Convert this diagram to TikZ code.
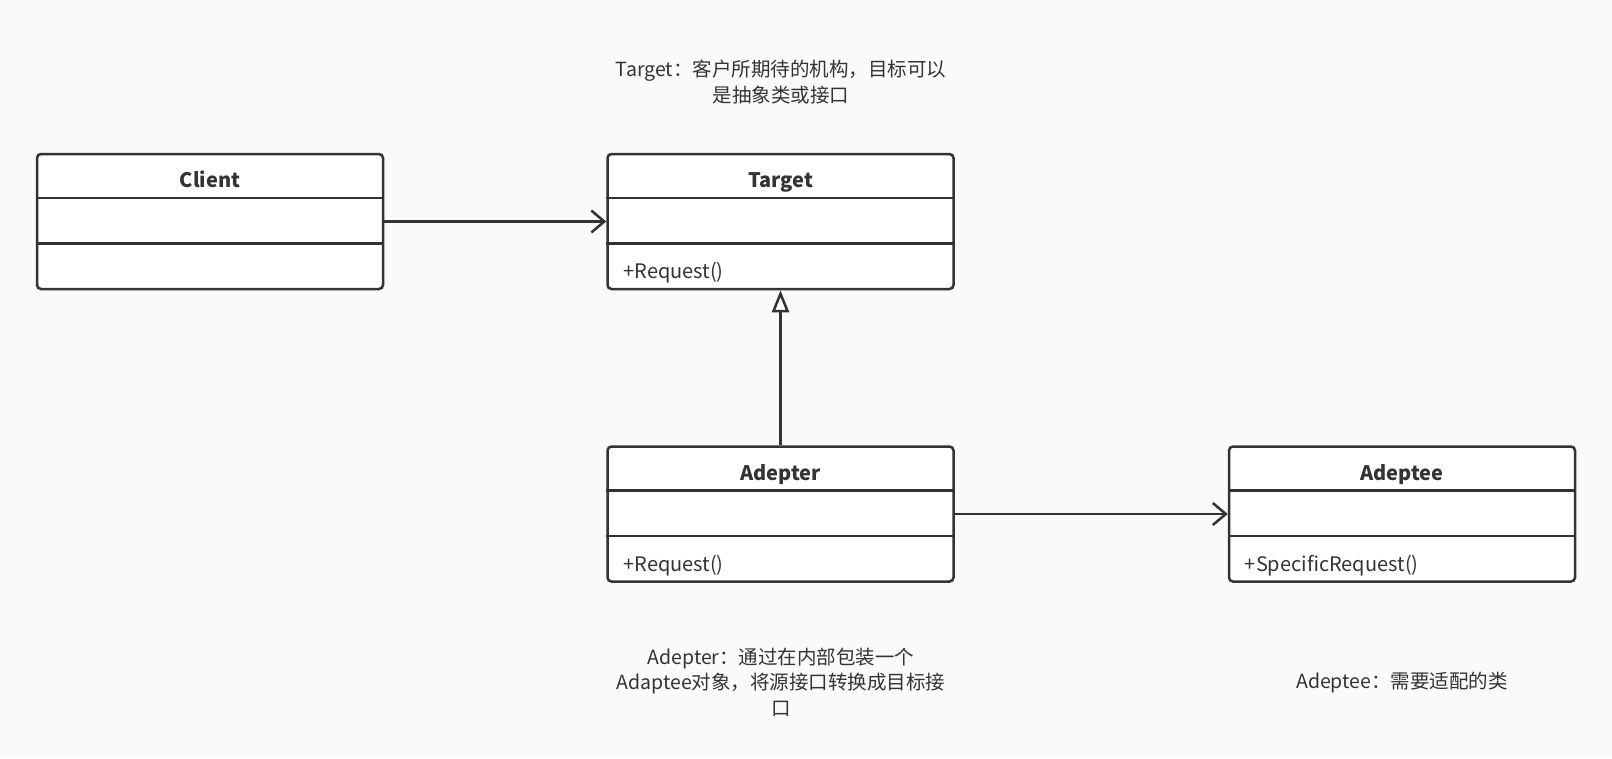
\documentclass[tikz,border=0pt]{standalone}
\usepackage{fontspec}
\setmainfont{Noto Sans CJK SC}
\usetikzlibrary{arrows.meta,calc}
\definecolor{ink}{HTML}{333333}
\definecolor{bg}{HTML}{FAFAFA}
\tikzset{
  cls/.style={draw=ink, line width=2.5pt, fill=white, rounded corners=4pt,
    minimum width=346pt, minimum height=135pt, inner sep=0pt},
  ttl/.style={font=\fontsize{20}{24}\selectfont\bfseries, text=ink, anchor=base, inner sep=0pt},
  mem/.style={font=\fontsize{20}{24}\selectfont, text=ink, anchor=base west, inner sep=0pt},
  note/.style={font=\fontsize{19.5}{25.5}\selectfont, text=ink, align=center},
  sepline/.style={draw=ink, line width=2.5pt},
  assoc/.style={draw=ink, line width=2.5pt, -{Straight Barb[length=13pt,width=22pt]}},
  inherit/.style={draw=ink, line width=2.5pt, -{Triangle[open,length=22pt,width=17pt,fill=white]}}
}
\begin{document}
\begin{tikzpicture}[x=1pt,y=-1pt]
\fill[bg] (0,0) rectangle (1612,758);
\useasboundingbox (0,0) rectangle (1612,758);

% class boxes
\node[cls] (cl) at (210,221.5) {};
\node[cls] (tg) at (780.5,221.5) {};
\node[cls] (ad) at (780.5,514) {};
\node[cls] (ae) at (1402,514) {};

\foreach \b in {cl,tg,ad,ae}{
  \draw[sepline] ($(\b.north west)+(0,45)$) -- ($(\b.north east)+(0,45)$);
  \draw[sepline] ($(\b.north west)+(0,90.5)$) -- ($(\b.north east)+(0,90.5)$);
}

% titles
\node[ttl] (clt) at ($(cl.north)+(0,35)$) {Client};
\node[ttl] (tgt) at ($(tg.north)+(0,35)$) {Target};
\node[ttl] (adt) at ($(ad.north)+(0,35)$) {Adepter};
\node[ttl] (aet) at ($(ae.north)+(0,35)$) {Adeptee};

% members
\node[mem] (tgm) at ($(tg.north west)+(17,126)$) {+Request()};
\node[mem] (adm) at ($(ad.north west)+(17,126)$) {+Request()};
\node[mem] (aem) at ($(ae.north west)+(17,126)$) {+SpecificRequest()};

% connectors
\draw[assoc] (cl.east) -- (tg.west);
\draw[assoc] (ad.east) -- (ae.west);
\draw[inherit] (ad.north) -- (tg.south);

% notes
\node[note] (n1) at (781,82) {Target：客户所期待的机构，目标可以\\是抽象类或接口};
\node[note] (n2) at (781,682) {Adepter：通过在内部包装一个\\Adaptee对象，将源接口转换成目标接\\口};
\node[note] (n3) at (1402,682) {Adeptee：需要适配的类};
\end{tikzpicture}
\end{document}
